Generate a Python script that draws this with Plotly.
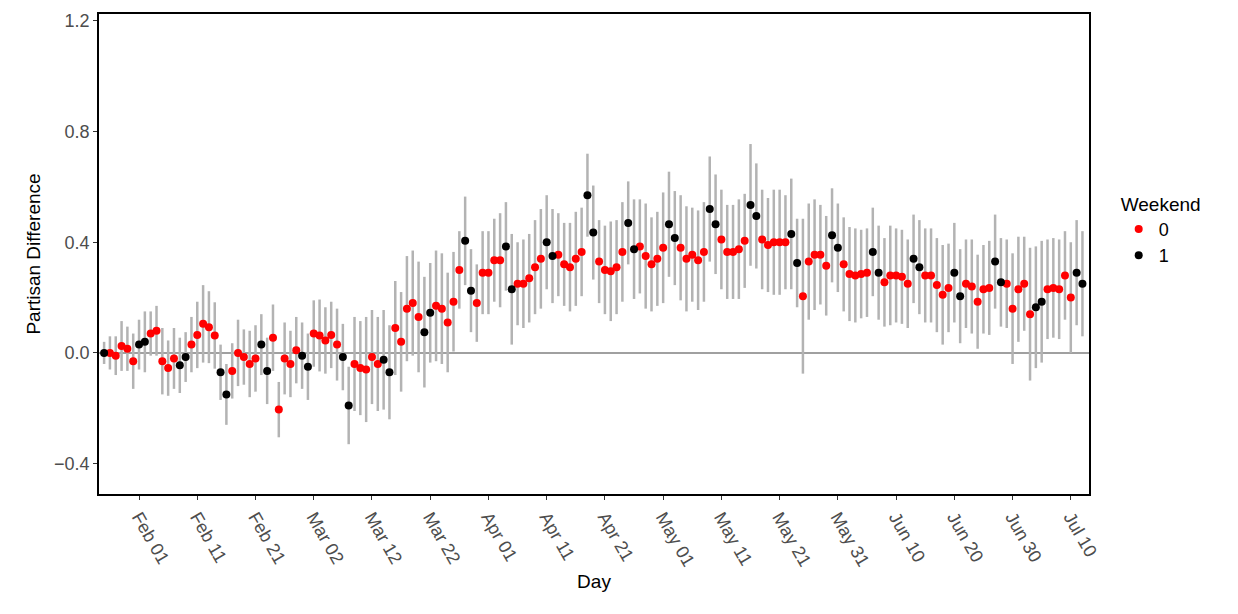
import pandas as pd
import numpy as np
import plotly.graph_objects as go

# daily estimates, 2020-01-26 .. 2020-07-12
start_day = "2020-01-26"
diff = [
    0.0, 0.0, -0.01, 0.025, 0.015, -0.03,            # Jan 26-31
    0.03, 0.04, 0.07, 0.08, -0.03, -0.055, -0.02, -0.045, -0.015, 0.03,   # Feb 1-10
    0.065, 0.105, 0.093, 0.063, -0.07, -0.15, -0.065, 0.0, -0.015, -0.04,  # Feb 11-20
    -0.02, 0.03, -0.065, 0.055, -0.205, -0.02, -0.04, 0.01, -0.01,         # Feb 21-29
    -0.05, 0.07, 0.063, 0.045, 0.065, 0.03, -0.015, -0.19, -0.04, -0.055,  # Mar 1-10
    -0.06, -0.015, -0.04, -0.025, -0.07, 0.09, 0.04, 0.16, 0.18, 0.13,     # Mar 11-20
    0.075, 0.145, 0.17, 0.16, 0.11, 0.185, 0.30, 0.405, 0.225, 0.18, 0.29, # Mar 21-31
    0.29, 0.335, 0.335, 0.385, 0.23, 0.25, 0.25, 0.27, 0.31, 0.34,         # Apr 1-10
    0.40, 0.35, 0.355, 0.32, 0.31, 0.34, 0.365, 0.57, 0.435, 0.33,         # Apr 11-20
    0.30, 0.295, 0.31, 0.365, 0.47, 0.375, 0.385, 0.35, 0.32, 0.34,        # Apr 21-30
    0.38, 0.465, 0.415, 0.38, 0.34, 0.355, 0.335, 0.365, 0.52, 0.465,      # May 1-10
    0.41, 0.365, 0.365, 0.375, 0.405, 0.535, 0.495, 0.41, 0.39, 0.40,      # May 11-20
    0.40, 0.40, 0.43, 0.325, 0.205, 0.33, 0.355, 0.355, 0.315, 0.425, 0.38,  # May 21-31
    0.32, 0.285, 0.28, 0.285, 0.29, 0.365, 0.29, 0.255, 0.28, 0.28,        # Jun 1-10
    0.275, 0.25, 0.34, 0.31, 0.28, 0.28, 0.245, 0.21, 0.235, 0.29,         # Jun 11-20
    0.205, 0.25, 0.24, 0.185, 0.23, 0.235, 0.33, 0.255, 0.25, 0.16,        # Jun 21-30
    0.23, 0.25, 0.14, 0.165, 0.185, 0.23, 0.235, 0.23, 0.28, 0.20,         # Jul 1-10
    0.29, 0.25,                                                            # Jul 11-12
]
half_ci = [
    0.04, 0.06, 0.07, 0.09, 0.08, 0.1,
    0.09, 0.11, 0.08, 0.09, 0.12, 0.1, 0.11, 0.1, 0.09, 0.1,
    0.12, 0.14, 0.13, 0.12, 0.1, 0.11, 0.1, 0.12, 0.1, 0.12,
    0.12, 0.11, 0.12, 0.12, 0.1, 0.13, 0.12, 0.12, 0.12,
    0.12, 0.12, 0.13, 0.12, 0.12, 0.13, 0.12, 0.14, 0.17, 0.17,
    0.19, 0.17, 0.17, 0.18, 0.17, 0.17, 0.18, 0.19, 0.19, 0.2,
    0.2, 0.18, 0.2, 0.2, 0.18, 0.18, 0.14, 0.16, 0.15, 0.14, 0.15,
    0.15, 0.15, 0.17, 0.16, 0.2, 0.15, 0.16, 0.16, 0.17, 0.18,
    0.17, 0.17, 0.15, 0.15, 0.16, 0.17, 0.16, 0.15, 0.17, 0.15,
    0.16, 0.18, 0.17, 0.18, 0.15, 0.18, 0.17, 0.19, 0.17, 0.17,
    0.2, 0.19, 0.17, 0.19, 0.19, 0.17, 0.18, 0.18, 0.19, 0.18,
    0.18, 0.17, 0.17, 0.18, 0.17, 0.22, 0.19, 0.18, 0.17, 0.19,
    0.19, 0.17, 0.2, 0.16, 0.28, 0.21, 0.2, 0.18, 0.18, 0.17, 0.16,
    0.17, 0.17, 0.17, 0.16, 0.16, 0.16, 0.17, 0.16, 0.18, 0.17,
    0.17, 0.16, 0.16, 0.17, 0.17, 0.17, 0.17, 0.18, 0.16, 0.18,
    0.17, 0.16, 0.17, 0.17, 0.16, 0.17, 0.17, 0.16, 0.16, 0.2,
    0.19, 0.17, 0.24, 0.22, 0.22, 0.18, 0.18, 0.18, 0.16, 0.2,
    0.19, 0.19,
]
tick_days = ["2020-02-01", "2020-02-11", "2020-02-21", "2020-03-02", "2020-03-12",
             "2020-03-22", "2020-04-01", "2020-04-11", "2020-04-21", "2020-05-01",
             "2020-05-11", "2020-05-21", "2020-05-31", "2020-06-10", "2020-06-20",
             "2020-06-30", "2020-07-10"]

df = pd.DataFrame({"day": pd.date_range(start_day, periods=len(diff), freq="D"),
                   "diff": diff, "ci": half_ci})
df["weekend"] = (df["day"].dt.dayofweek >= 5).astype(int)

fig = go.Figure()
# error bars first so every bar sits under the points
fig.add_trace(go.Scatter(
    x=df["day"], y=df["diff"], mode="markers", marker=dict(opacity=0),
    error_y=dict(type="data", array=df["ci"], color="#b3b3b3", thickness=2.5, width=0),
    showlegend=False, hoverinfo="skip"))
for wk, col in [(0, "#ff0000"), (1, "#000000")]:
    d = df[df["weekend"] == wk]
    fig.add_trace(go.Scatter(x=d["day"], y=d["diff"], mode="markers", name=str(wk),
                             marker=dict(color=col, size=8)))

fig.add_hline(y=0, line=dict(color="#808080", width=1.5), layer="below")

fig.update_layout(
    width=1238, height=614, plot_bgcolor="white", paper_bgcolor="white",
    margin=dict(l=91, r=157, t=6, b=128),
    font=dict(family="Liberation Sans, Arial", size=16, color="#000000"),
    legend=dict(title=dict(text="Weekend", font=dict(size=19)), x=1.03, y=0.55,
                yanchor="middle", font=dict(size=18), tracegroupgap=8),
    xaxis=dict(title=dict(text="Day", font=dict(size=19), standoff=6),
               automargin=False,
               range=["2020-01-25 03:00", "2020-07-13 03:00"],
               tickvals=tick_days, tickformat="%b %d", tickangle=60,
               ticks="outside", ticklen=4, tickcolor="#333",
               tickfont=dict(size=18, color="#4d4d4d"),
               showline=True, linecolor="black", linewidth=1.5, mirror=True,
               showgrid=False, zeroline=False),
    yaxis=dict(title=dict(text="Partisan Difference", font=dict(size=19), standoff=8),
               automargin=False,
               range=[-0.51, 1.225], tickvals=[-0.4, 0, 0.4, 0.8, 1.2],
               ticktext=["\u22120.4", "0.0", "0.4", "0.8", "1.2"],
               ticks="outside", ticklen=4, tickcolor="#333",
               tickfont=dict(size=18, color="#4d4d4d"),
               showline=True, linecolor="black", linewidth=1.5, mirror=True,
               showgrid=False, zeroline=False),
)
fig.write_html("out.html")
